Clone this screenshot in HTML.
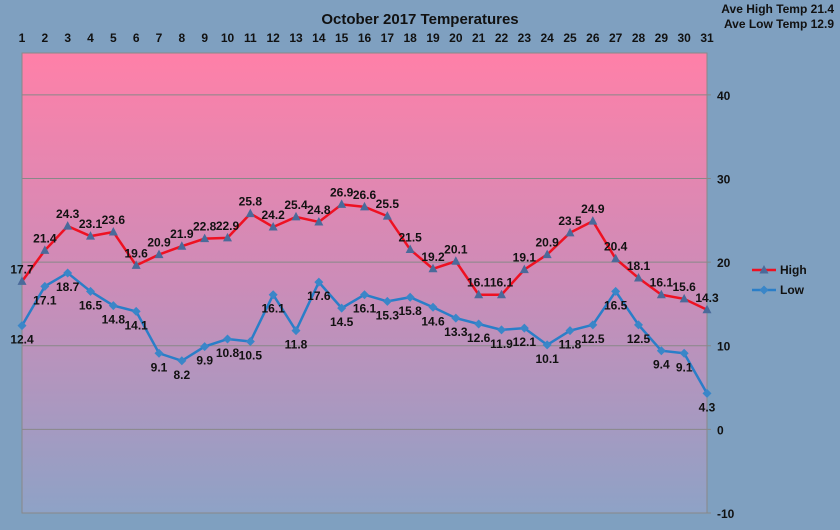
<!DOCTYPE html>
<html><head><meta charset="utf-8"><style>
body{margin:0;background:#7fa0c0;}
svg{display:block;font-family:"Liberation Sans",sans-serif;}
</style></head><body>
<svg id="c" width="840" height="530">
<defs><linearGradient id="g" x1="0" y1="0" x2="0" y2="1">
<stop offset="0" stop-color="#ff80a8"/><stop offset="0.5" stop-color="#cc8cb8"/><stop offset="1" stop-color="#8ea2c6"/></linearGradient></defs>
<rect width="840" height="530" fill="#7fa0c0"/>
<text x="420" y="24" text-anchor="middle" font-weight="bold" font-size="15" fill="#111">October 2017 Temperatures</text>
<text x="834" y="13" text-anchor="end" font-weight="bold" font-size="12" fill="#111">Ave High Temp 21.4</text>
<text x="834" y="28" text-anchor="end" font-weight="bold" font-size="12" fill="#111">Ave Low Temp 12.9</text>
<g id="plot"></g>
</svg>
<script>
const days=[1,2,3,4,5,6,7,8,9,10,11,12,13,14,15,16,17,18,19,20,21,22,23,24,25,26,27,28,29,30,31];
const high=[17.7,21.4,24.3,23.1,23.6,19.6,20.9,21.9,22.8,22.9,25.8,24.2,25.4,24.8,26.9,26.6,25.5,21.5,19.2,20.1,16.1,16.1,19.1,20.9,23.5,24.9,20.4,18.1,16.1,15.6,14.3];
const low=[12.4,17.1,18.7,16.5,14.8,14.1,9.1,8.2,9.9,10.8,10.5,16.1,11.8,17.6,14.5,16.1,15.3,15.8,14.6,13.3,12.6,11.9,12.1,10.1,11.8,12.5,16.5,12.5,9.4,9.1,4.3];
const yTicks=[-10,0,10,20,30,40];
const NS="http://www.w3.org/2000/svg";
const L=22,R=707,T=53,B=513,YMIN=-10,YMAX=45;
const x=d=>L+(d-1)*(R-L)/30;
const y=v=>B-(v-YMIN)*(B-T)/(YMAX-YMIN);
const g=document.getElementById('plot');
function mk(t,a,txt){const e=document.createElementNS(NS,t);for(const k in a)e.setAttribute(k,a[k]);if(txt!==undefined)e.textContent=txt;g.appendChild(e);return e;}
let e=mk('rect',{x:L,y:T,width:R-L,height:B-T,fill:'url(#g)',stroke:'#888'});


yTicks.forEach(v=>{
 let l=mk('line',{x1:L,x2:R+4,y1:y(v),y2:y(v),stroke:'#888','stroke-width':1});
 
 
 let t=mk('text',{x:R+10,y:y(v)+5,'font-size':12,'font-weight':'bold',fill:'#111'},v);
 
 
});
days.forEach(d=>{
 let t=mk('text',{x:x(d),y:42,'text-anchor':'middle','font-size':12,'font-weight':'bold',fill:'#111'},d);
 
 
});
function series(vals,color,name,above,shape){
 let p=mk('polyline',{points:vals.map((v,i)=>x(days[i])+','+y(v)).join(' '),fill:'none',stroke:color,'stroke-width':2.5});
 
 
 vals.forEach((v,i)=>{
  const cx=x(days[i]),cy=y(v);
  let m;
  if(shape==='tri') m=mk('polygon',{points:`${cx},${cy-5} ${cx-4.5},${cy+3.5} ${cx+4.5},${cy+3.5}`,fill:'#4a6a9a'});
  else m=mk('polygon',{points:`${cx},${cy-4.5} ${cx+4.5},${cy} ${cx},${cy+4.5} ${cx-4.5},${cy}`,fill:'#3a86c8'});
  
  
  let t=mk('text',{x:cx,y:above?cy-8:cy+18,'text-anchor':'middle','font-size':12,'font-weight':'bold',fill:'#111'},v.toFixed(1));
  
  
 });
}
series(high,'#ee1122','high',true,'tri');
series(low,'#2a7ec8','low',false,'dia');
[['High','#ee1122',270,'tri'],['Low','#2a7ec8',290,'dia']].forEach(([n,c,yy,s])=>{
 let l=mk('line',{x1:752,x2:776,y1:yy,y2:yy,stroke:c,'stroke-width':2.5});
 
 
 let m=s==='tri'?mk('polygon',{points:`764,${yy-5} 759.5,${yy+3.5} 768.5,${yy+3.5}`,fill:'#4a6a9a'}):mk('polygon',{points:`764,${yy-4.5} 768.5,${yy} 764,${yy+4.5} 759.5,${yy}`,fill:'#3a86c8'});
 
 
 let t=mk('text',{x:780,y:yy+4,'font-size':12,'font-weight':'bold',fill:'#111'},n);
 
 
});
</script>
</body></html>
